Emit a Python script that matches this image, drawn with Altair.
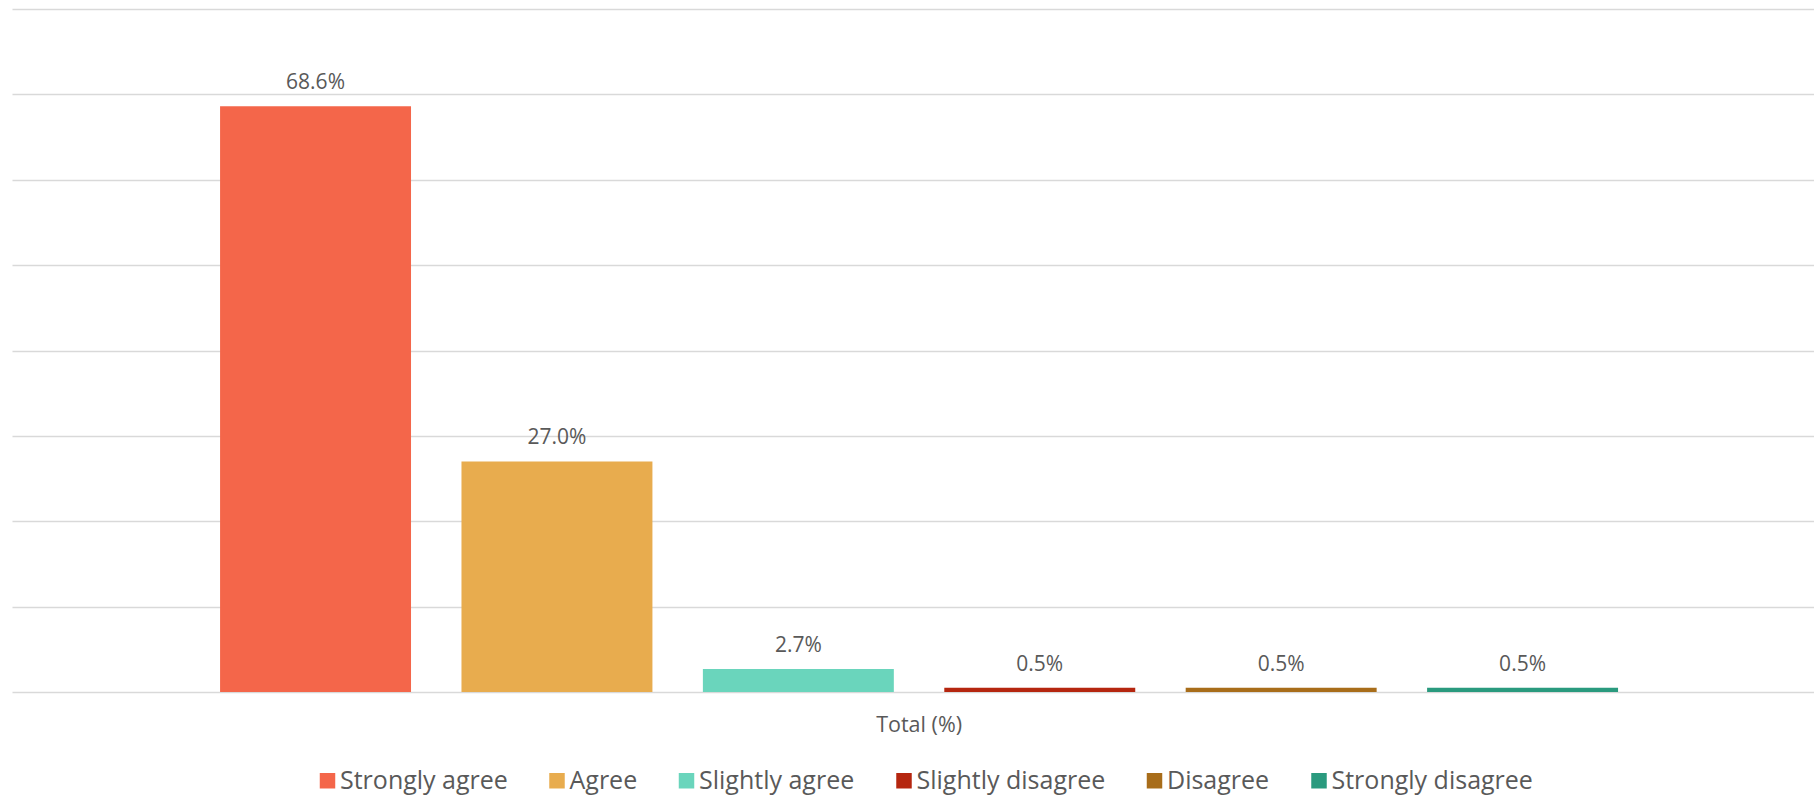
import altair as alt
import pandas as pd

group = "Total (%)"
responses = ["Strongly agree", "Agree", "Slightly agree", "Slightly disagree", "Disagree", "Strongly disagree"]
values = [68.6, 27.0, 2.7, 0.5, 0.5, 0.5]
colors = ["#F4664A", "#E8AC4E", "#6AD5BC", "#B5260F", "#A86D1A", "#2A9A7E"]
grid_values = [0, 10, 20, 30, 40, 50, 60, 70, 80]

df = pd.DataFrame({
    "group": [group] * len(responses),
    "response": responses,
    "value": values,
    "label": [f"{v:.1f}%" for v in values],
})

FONT = "Open Sans"
TXT = "#595959"

x_enc = alt.X("group:N", title=None,
              scale=alt.Scale(paddingInner=0, paddingOuter=0.1445, align=0.515),
              axis=alt.Axis(labelAngle=0, ticks=False, tickSize=0, domain=False,
                            labelFontSize=21.5, labelColor=TXT, labelFont=FONT,
                            labelPadding=22, grid=False))
xo_enc = alt.XOffset("response:N", sort=responses,
                     scale=alt.Scale(paddingInner=0.209, paddingOuter=0))
y_enc = alt.Y("value:Q", title=None,
              scale=alt.Scale(domain=[0, 80], nice=False),
              axis=alt.Axis(values=grid_values, labels=False, ticks=False, domain=False,
                            gridColor="#D9D9D9", gridWidth=1.5))

base = alt.Chart(df)

bars = base.mark_bar().encode(
    x=x_enc,
    xOffset=xo_enc,
    y=y_enc,
    color=alt.Color("response:N", sort=responses,
                    scale=alt.Scale(domain=responses, range=colors),
                    legend=alt.Legend(title=None, orient="none", direction="horizontal",
                                      legendX=303, legendY=759,
                                      symbolType="square", symbolSize=240,
                                      symbolStrokeWidth=0, symbolOpacity=1,
                                      labelFontSize=25, labelColor=TXT, labelFont=FONT,
                                      labelOffset=0, columnPadding=36.5, labelLimit=500)),
)

labels = base.mark_text(baseline="alphabetic", dy=-17, fontSize=21, color=TXT, font=FONT).encode(
    x=alt.X("group:N"),
    xOffset=alt.XOffset("response:N", sort=responses),
    y=alt.Y("value:Q"),
    text="label:N",
)

chart = (bars + labels).properties(
    width=1802,
    height=683,
    autosize=alt.AutoSizeParams(type="none"),
    padding={"left": 12, "top": 9, "right": 0, "bottom": 105},
    background="white",
).configure_view(stroke=None)

chart.save("out.html", embed_options={"renderer": "svg", "actions": False})
